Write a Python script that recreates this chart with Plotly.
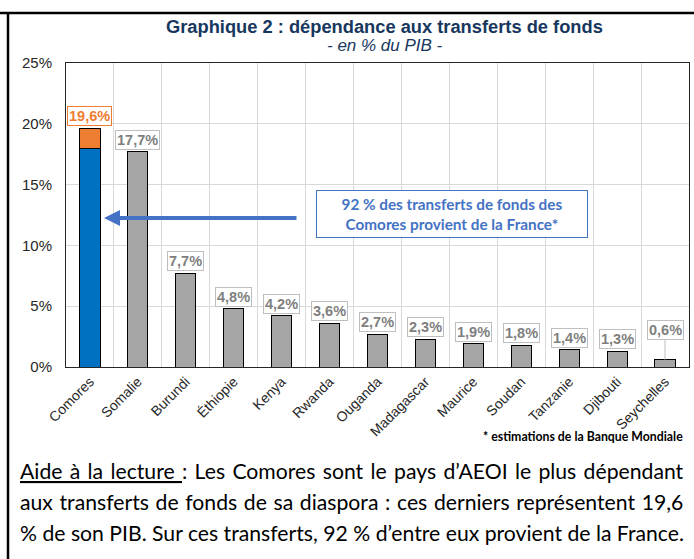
import plotly.graph_objects as go

# ---- data ----
categories = ["Comores", "Somalie", "Burundi", "Éthiopie", "Kenya", "Rwanda", "Ouganda",
              "Madagascar", "Maurice", "Soudan", "Tanzanie", "Djibouti", "Seychelles"]
values = [19.6, 17.7, 7.7, 4.8, 4.2, 3.6, 2.7, 2.3, 1.9, 1.8, 1.4, 1.3, 0.6]
comores_from_france = 18.0
comores_other = 1.6
y_tickvals = [0, 5, 10, 15, 20, 25]
y_ticktext = ["0%", "5%", "10%", "15%", "20%", "25%"]

W, H = 694, 559
L, R, T, B = 66, 689, 63, 367


def xp(px):
    return (px - L) / (R - L)


def yp(py):
    return (B - py) / (B - T)


BLUE = "#0070C0"
GREY = "#A5A5A5"
ORANGE = "#ED7D31"
NAVY = "#17375E"
ABLUE = "#4472C4"
ARIAL = "Arial, Liberation Sans, sans-serif"
CAL = "Lato, Open Sans, sans-serif"

fig = go.Figure()
fig.add_trace(go.Bar(
    x=categories,
    y=[comores_from_france] + values[1:],
    width=0.42,
    marker=dict(color=[BLUE] + [GREY] * (len(categories) - 1),
                line=dict(color="#000000", width=1)),
    hoverinfo="skip",
))
fig.add_trace(go.Bar(
    x=categories,
    y=[comores_other] + [None] * (len(categories) - 1),
    width=0.42,
    marker=dict(color=ORANGE, line=dict(color="#000000", width=1)),
    hoverinfo="skip",
))

ann = []
for i, (c, v) in enumerate(zip(categories, values)):
    txt = f"{v:.1f}".replace(".", ",") + "%"
    col = ORANGE if i == 0 else "#7F7F7F"
    bcol = ORANGE if i == 0 else "#BFBFBF"
    if c == "Seychelles":
        ann.append(dict(x=c, y=v, xref="x", yref="y", text=f"<b>{txt}</b>",
                        showarrow=True, arrowhead=0, arrowwidth=1, arrowcolor="#BFBFBF",
                        ax=0, ay=-30, font=dict(family=ARIAL, size=14.5, color=col),
                        bordercolor=bcol, borderwidth=1, borderpad=1, bgcolor="white"))
    else:
        ann.append(dict(x=c, y=v, xref="x", yref="y", text=f"<b>{txt}</b>",
                        showarrow=False, yshift=13 if i == 0 else 12,
                        font=dict(family=ARIAL, size=14.5, color=col),
                        bordercolor=bcol, borderwidth=1, borderpad=1, bgcolor="white"))

# title
ann.append(dict(x=xp(384), y=yp(27), xref="paper", yref="paper", showarrow=False,
                text="<b>Graphique 2 : dépendance aux transferts de fonds</b>",
                font=dict(family=ARIAL, size=18.3, color=NAVY), xanchor="center", yanchor="middle"))
ann.append(dict(x=xp(385), y=yp(46), xref="paper", yref="paper", showarrow=False,
                text="<i>- en % du PIB -</i>",
                font=dict(family=ARIAL, size=17, color=NAVY), xanchor="center", yanchor="middle"))

# arrow
ann.append(dict(x=xp(104), y=yp(218), xref="paper", yref="paper", text="",
                showarrow=True, arrowhead=2, arrowwidth=4, arrowsize=0.8,
                arrowcolor=ABLUE, ax=194, ay=0))
# text box
ann.append(dict(x=xp(452), y=yp(214), xref="paper", yref="paper", showarrow=False,
                text="<b>92 % des transferts de fonds des<br>Comores provient de la France*</b>",
                font=dict(family=CAL, size=15.3, color=ABLUE), align="center",
                bordercolor=ABLUE, borderwidth=1, borderpad=0, bgcolor="white",
                width=270, height=46, xanchor="center", yanchor="middle"))

# footnote
ann.append(dict(x=xp(685), y=yp(437), xref="paper", yref="paper", showarrow=False,
                text="<b>* estimations de la Banque Mondiale</b>",
                font=dict(family=CAL, size=12.3, color="#000000"), xanchor="right", yanchor="middle"))

# reading aid (justified via word spacing)
lines = [
    ("<u>Aide à la lecture </u>: Les Comores sont le pays d’AEOI le plus dépendant", 1.9),
    ("aux transferts de fonds de sa diaspora : ces derniers représentent 19,6", 1.2),
    ("% de son PIB. Sur ces transferts, 92 % d’entre eux provient de la France.", 0),
]
for (ln, ws), py in zip(lines, [471, 502, 533]):
    ann.append(dict(x=xp(18), y=yp(py), xref="paper", yref="paper", showarrow=False,
                    text=f'<span style="word-spacing:{ws}px">{ln}</span>',
                    font=dict(family=CAL, size=21.2, color="#000000"),
                    xanchor="left", yanchor="middle"))

shapes = [
    dict(type="line", xref="paper", yref="paper", x0=xp(0), x1=xp(694), y0=yp(13), y1=yp(13),
         line=dict(color="black", width=2.5)),
    dict(type="line", xref="paper", yref="paper", x0=xp(8), x1=xp(8), y0=yp(13), y1=yp(560),
         line=dict(color="black", width=2.5)),
]

fig.update_layout(
    width=W, height=H,
    margin=dict(l=L, r=W - R, t=T, b=H - B, pad=0),
    paper_bgcolor="white", plot_bgcolor="white",
    barmode="stack", showlegend=False,
    annotations=ann, shapes=shapes,
    xaxis=dict(type="category", range=[-0.5, len(categories) - 0.5], tickangle=-45,
               tickson="boundaries", showgrid=True, gridcolor="#D9D9D9", gridwidth=1,
               ticks="", showline=True, linecolor="#262626", linewidth=1, mirror=True,
               tickfont=dict(family=ARIAL, size=14, color="#262626"), fixedrange=True),
    yaxis=dict(range=[0, 25], tickvals=y_tickvals, ticktext=y_ticktext,
               showgrid=True, gridcolor="#D9D9D9", gridwidth=1, zeroline=False,
               ticks="", showline=True, linecolor="#262626", linewidth=1, mirror=True,
               ticklabelstandoff=10,
               tickfont=dict(family=ARIAL, size=15, color="#262626"), fixedrange=True),
)

fig.write_html("out.html", config={"displayModeBar": False},
               post_script="document.body.style.margin='0';document.body.style.overflow='hidden';")
